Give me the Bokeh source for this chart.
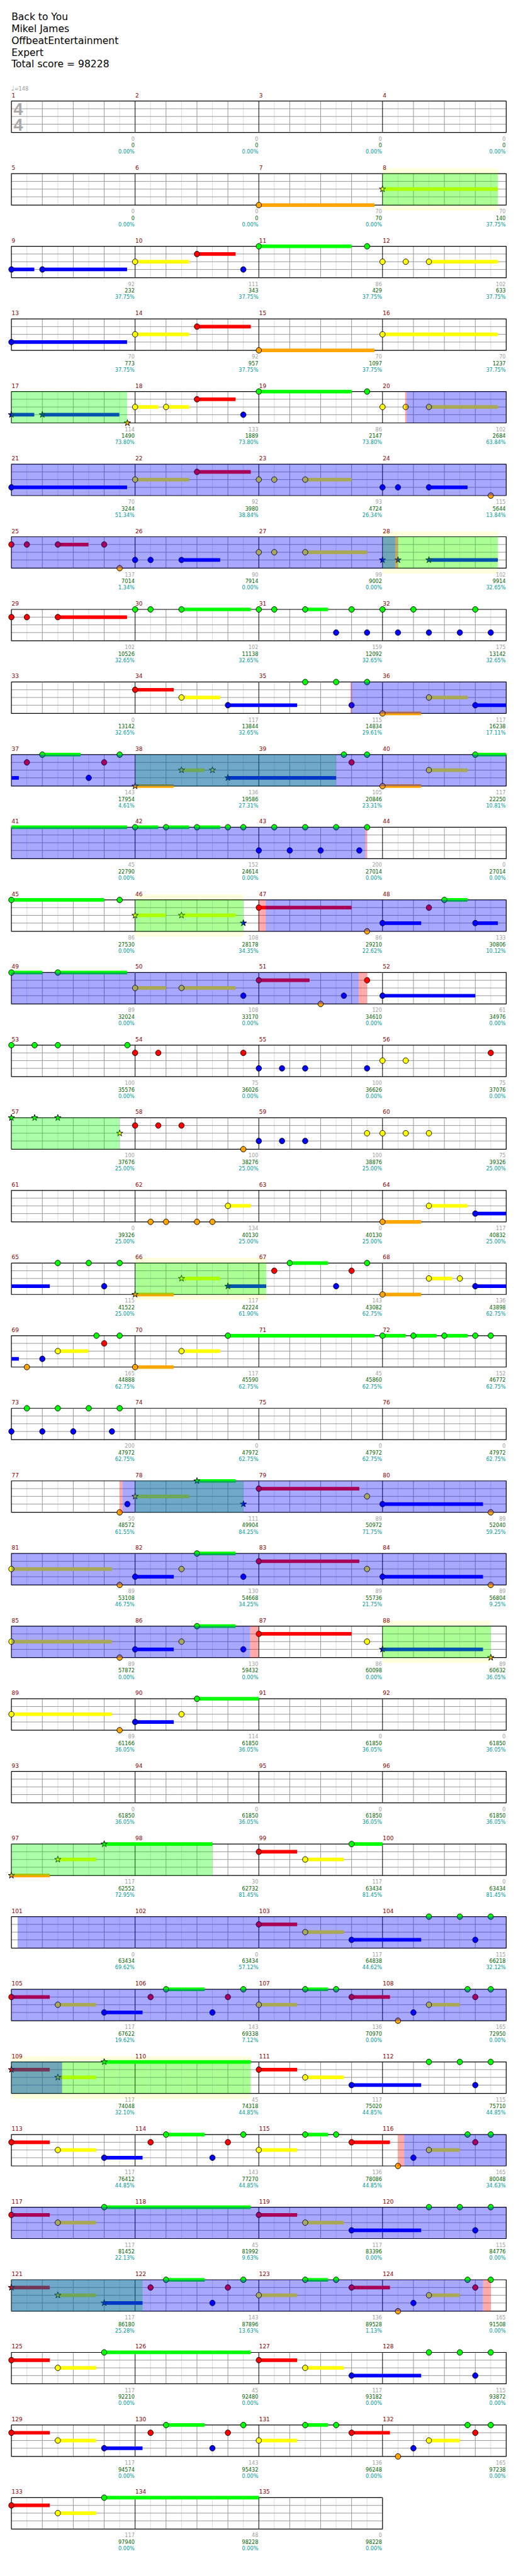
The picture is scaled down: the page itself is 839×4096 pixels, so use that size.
import math
from bokeh.plotting import figure
from bokeh.models import Range1d, ColumnDataSource
from bokeh.embed import file_html
from bokeh.resources import INLINE
from bokeh.core.properties import value

# ---------------------------------------------------------------- data
TITLE = ["Back to You", "Mikel James", "OffbeatEntertainment", "Expert", "Total score = 98228"]
TEMPO = 148
TIME_SIG = ("4", "4")
N_MEASURES = 135

# notes: (beat from song start, sustain length in beats, star note)
GREEN_NOTES = [
    (40, 3, 0), (43.5, 0, 0),
    (72, 3, 0), (75.5, 0, 0),
    (116, 0, 0), (116.5, 0, 0), (117.5, 2.24, 0), (120, 0, 0), (120.5, 0, 0), (121.5, 0.74, 0),
    (123, 0, 0), (124, 0, 0), (125, 0, 0), (127, 0, 0),
    (137.5, 0, 0), (138.5, 0, 0), (139.5, 0, 0),
    (145, 1.24, 0), (147.5, 0, 0), (154.75, 0, 0), (155.5, 0, 0), (159, 4.74, 0),
    (164, 0.75, 0), (165, 0.75, 0), (166, 0.75, 0), (167, 0, 0), (167.5, 0, 0), (168.5, 0, 0),
    (169.5, 0, 0), (170.5, 0, 0), (171.5, 0, 0),
    (176, 3, 0), (179.5, 0, 0), (190, 0.75, 0),
    (192, 1.0, 0), (193.5, 2.24, 0),
    (208, 0, 0), (208.75, 0, 0), (209.5, 0, 0), (211.75, 0, 0),
    (224, 0, 1), (224.75, 0, 1), (225.5, 0, 1),
    (257.5, 0, 0), (258.5, 0, 0), (259.5, 0, 0), (265, 1.24, 0), (267.5, 0, 0),
    (274.75, 0, 0), (275.5, 0, 0), (279, 4.74, 0), (284, 0.75, 0), (285, 0.75, 0), (286, 0.75, 0),
    (287, 0, 0), (287.5, 0, 0),
    (288.5, 0, 0), (289.5, 0, 0), (290.5, 0, 0), (291.5, 0, 0),
    (310, 1.25, 1), (326, 1.25, 0), (342, 1.25, 0), (358, 2, 0),
    (387, 3.5, 1), (395, 1, 0),
    (413.5, 0, 0), (414.5, 0, 0), (415.5, 0, 0),
    (421, 1.25, 0), (423.5, 0, 0), (425.5, 0.74, 0), (426.5, 0, 0), (430.75, 0, 0), (431.5, 0, 0),
    (435, 4.74, 1), (445.5, 0, 0), (446.5, 0, 0), (447.5, 0, 0),
    (453, 1.25, 0), (455.5, 0, 0), (457.5, 0.74, 0), (458.5, 0, 0), (462.75, 0, 0), (463.5, 0, 0),
    (467, 4.74, 0), (477.5, 0, 0), (478.5, 0, 0), (479.5, 0, 0),
    (485, 1.25, 0), (487.5, 0, 0), (489.5, 0.74, 0), (490.5, 0, 0), (494.75, 0, 0), (495.5, 0, 0),
    (499, 4.74, 0), (509.5, 0, 0), (510.5, 0, 0), (511.5, 0, 0),
    (517, 1.25, 0), (519.5, 0, 0), (521.5, 0.74, 0), (522.5, 0, 0), (526.75, 0, 0), (527.5, 0, 0),
    (531, 5, 0),
]
RED_NOTES = [
    (38, 1.25, 0), (54, 1.74, 0), (70, 1.25, 0), (86, 1.74, 0),
    (96, 0, 0), (96.5, 0, 0), (97.5, 0.99, 0), (99, 0, 0),
    (112, 0, 0), (112.5, 0, 0), (113.5, 2.24, 0),
    (132, 1.25, 0),
    (144.5, 0, 0), (147, 0, 0), (155, 0, 0),
    (184, 3, 0), (189.5, 0, 0),
    (200, 1.64, 0), (203.5, 0, 0),
    (212, 0, 0), (212.75, 0, 0), (215.5, 0, 0), (223.5, 0, 0),
    (228, 0, 0), (228.75, 0, 0), (229.5, 0, 0),
    (264.5, 0, 0), (267, 0, 0),
    (275, 0, 0),
    (312, 3.25, 0), (328, 3.25, 0), (344, 3, 0),
    (392, 1.24, 0), (408, 1.24, 0),
    (416, 1.24, 0), (420.5, 0, 0), (423, 0, 0), (427, 1.24, 0), (431, 0, 0),
    (432, 1.24, 1), (440, 1.24, 0),
    (448, 1.24, 0), (452.5, 0, 0), (455, 0, 0), (459, 1.24, 0), (463, 0, 0),
    (464, 1.24, 0), (472, 1.24, 0),
    (480, 1.24, 1), (484.5, 0, 0), (487, 0, 0), (491, 1.24, 0), (495, 0, 0),
    (496, 1.24, 0), (504, 1.24, 0),
    (512, 1.24, 0), (516.5, 0, 0), (519, 0, 0), (523, 1.24, 0), (527, 0, 0),
    (528, 1.24, 0),
]
YELLOW_NOTES = [
    (28, 3.73, 1),
    (36, 1.75, 0), (44, 0, 0), (44.75, 0, 0), (45.5, 2.23, 0),
    (52, 1.75, 0), (60, 3.73, 0),
    (68, 0.75, 0), (69, 0.75, 0), (76, 0, 0), (76.75, 0, 0), (77.5, 2.23, 0),
    (84, 1.75, 0), (88, 0, 0), (88.5, 0, 0), (89.5, 1.5, 0),
    (104, 0, 0), (104.5, 0, 0), (105.5, 2, 0),
    (133.5, 1.25, 0), (141.5, 1.25, 0),
    (149.5, 0.75, 1), (150.5, 0, 1), (157.5, 1.25, 0),
    (180, 0.99, 1), (181.5, 1.75, 1),
    (196, 1, 0), (197.5, 1.75, 0),
    (220, 0, 0), (220.75, 0, 0),
    (227.5, 0, 1), (235.5, 0, 0), (236, 0, 0), (236.75, 0, 0), (237.5, 0, 0),
    (247, 0.74, 0), (253.5, 1.25, 0),
    (261.5, 1.25, 1), (269.5, 0.75, 0), (270.5, 0, 0),
    (273.5, 0.99, 0), (277.5, 1.25, 0),
    (308, 1.75, 1), (315.5, 0, 0),
    (320, 3.25, 0), (325.5, 0, 0), (331.5, 0, 0),
    (336, 3.25, 0), (341.5, 0, 0), (347.5, 0, 0),
    (352, 3.25, 0), (357.5, 0, 0),
    (385.5, 1.24, 1), (393.5, 1.25, 0),
    (409.5, 1.25, 0),
    (417.5, 1.24, 0), (424, 1.24, 0), (429.5, 1, 0),
    (433.5, 1.24, 1), (441.5, 1.25, 0),
    (449.5, 1.24, 0), (456, 1.24, 0), (461.5, 1, 0),
    (465.5, 1.24, 0), (473.5, 1.25, 0),
    (481.5, 1.24, 1), (488, 1.24, 0), (493.5, 1, 0),
    (497.5, 1.24, 0), (505.5, 1.25, 0),
    (513.5, 1.24, 0), (520, 1.24, 0), (525.5, 1, 0),
    (529.5, 1.24, 0),
]
BLUE_NOTES = [
    (32, 0.74, 0), (33, 2.74, 0), (39.5, 0, 0),
    (48, 3.74, 0),
    (64, 0.74, 1), (65, 2.49, 1), (71.5, 0, 0),
    (80, 3.74, 0), (92, 0, 0), (92.5, 0, 0), (93.5, 1.25, 0),
    (100, 0, 0), (100.5, 0, 0), (101.5, 1.25, 0), (108, 0, 1), (108.5, 0, 1), (109.5, 2.23, 1),
    (122.5, 0, 0), (123.5, 0, 0), (124.5, 0, 0), (125.5, 0, 0), (126.5, 0, 0), (127.5, 0, 0),
    (135, 2.24, 0), (139, 0, 0), (143, 1.24, 0),
    (146.5, 0, 0), (151, 3.5, 1),
    (168, 0, 0), (169, 0, 0), (170, 0, 0), (171.25, 0, 0),
    (183.5, 0, 1), (188, 1.25, 0), (191, 0.73, 0),
    (199.5, 0, 0), (202.75, 0, 0), (204, 3, 0),
    (216, 0, 0), (216.75, 0, 0), (217.5, 0, 0), (219.5, 0, 0),
    (232, 0, 0), (232.75, 0, 0), (233.5, 0, 0),
    (255, 2.24, 0),
    (259, 0, 0), (263, 1.24, 1), (266.5, 0, 0), (271, 1.24, 0),
    (273, 0, 0),
    (288, 0, 0), (289, 0, 0), (290, 0, 0), (291.25, 0, 0),
    (307.75, 0, 0), (311.5, 0, 1), (316, 3.25, 0),
    (324, 1.25, 0), (327.5, 0, 0), (332, 3.25, 0),
    (340, 1.25, 0), (343.5, 0, 0), (348, 3.25, 1),
    (356, 1.25, 0),
    (411, 2.25, 0), (415, 0, 0),
    (419, 1.24, 0), (422.5, 0, 0), (429, 0, 0),
    (443, 2.25, 0), (447, 0, 0),
    (451, 1.24, 0), (454.5, 0, 0), (461, 0, 0),
    (475, 2.25, 0), (479, 0, 0),
    (483, 1.24, 1), (486.5, 0, 0), (493, 0, 0),
    (507, 2.25, 0), (511, 0, 0),
    (515, 1.24, 0), (518.5, 0, 0), (525, 0, 0),
]
ORANGE_NOTES = [
    (24, 3.74, 0), (56, 3.74, 0), (67.75, 0, 1), (95.5, 0, 0), (99.5, 0, 0),
    (140, 1.25, 0), (148, 1.25, 1), (156, 1.25, 0),
    (187.5, 0, 0), (202, 0, 0), (231.5, 0, 0),
    (244.5, 0, 0), (245, 0, 0), (246, 0, 0), (246.5, 0, 0), (252, 1.25, 0),
    (260, 1.25, 1), (268, 1.25, 0),
    (272.5, 0, 0), (276, 1.25, 0),
    (307.5, 0, 0), (319.5, 0, 0), (323.5, 0, 0), (335.5, 0, 0), (339.5, 0, 0), (351.5, 0, 1), (355.5, 0, 0),
    (384, 1.24, 1),
    (428.5, 0, 0), (460.5, 0, 0), (492.5, 0, 0), (524.5, 0, 0),
]

# star-power phrases: (start beat, end beat, highlighted)
SP_PHRASES = [
    (28, 31.73, 1), (64, 67.74, 0), (108, 111.73, 1), (148, 154.5, 0), (180, 183.5, 1),
    (224, 227.5, 0), (260, 264.24, 1), (308, 311.5, 0), (348, 351.5, 1), (384, 390.5, 0),
    (432, 439.74, 1), (480, 484.24, 0),
]
# star-power activations: (start beat, end beat)
ACTIVATIONS = [(76.78, 108.41), (139, 171.45), (184.22, 203.23), (307.59, 343.72),
               (400.2, 433.64), (460.7, 495.25)]
# activation edges: (start beat, end beat)
EDGES = [(76.73, 76.78), (108.41, 108.5), (138.96, 139), (171.45, 171.5), (184, 184.22),
         (203.23, 203.5), (307.5, 307.59), (343.72, 344), (460.5, 460.7), (495.25, 495.5)]

MEASURE_SCORE = [
    0, 0, 0, 0, 0, 0, 70, 70, 92, 111, 86, 102, 70, 92, 70, 70,
    114, 133, 86, 102, 70, 92, 93, 115, 137, 90, 99, 102, 102, 102, 159, 175,
    0, 117, 115, 117, 143, 136, 105, 117, 45, 152, 200, 0, 86, 108, 86, 133,
    89, 108, 120, 61, 100, 75, 100, 75, 100, 100, 100, 75, 0, 134, 0, 117,
    115, 117, 143, 136, 165, 117, 45, 152, 200, 0, 0, 0, 50, 111, 89, 89,
    89, 130, 89, 89, 89, 130, 86, 89, 89, 114, 0, 0, 0, 0, 0, 0,
    117, 30, 117, 0, 0, 0, 117, 115, 117, 143, 136, 165, 117, 45, 117, 115,
    117, 143, 136, 165, 117, 45, 117, 115, 117, 143, 136, 165, 117, 45, 117, 115,
    117, 143, 136, 165, 117, 48, 0,
]
TOTAL_SCORE = [
    0, 0, 0, 0, 0, 0, 70, 140, 232, 343, 429, 633, 773, 957, 1097, 1237,
    1490, 1889, 2147, 2684, 3244, 3980, 4724, 5644, 7014, 7914, 9002, 9914,
    10526, 11138, 12092, 13142, 13142, 13844, 14834, 16238, 17954, 19586, 20846, 22250,
    22790, 24614, 27014, 27014, 27530, 28178, 29210, 30806, 32024, 33170, 34610, 34976,
    35576, 36026, 36626, 37076, 37676, 38276, 38876, 39326, 39326, 40130, 40130, 40832,
    41522, 42224, 43082, 43898, 44888, 45590, 45860, 46772, 47972, 47972, 47972, 47972,
    48572, 49904, 50972, 52040, 53108, 54668, 55736, 56804, 57872, 59432, 60098, 60632,
    61166, 61850, 61850, 61850, 61850, 61850, 61850, 61850, 62552, 62732, 63434, 63434,
    63434, 63434, 64838, 66218, 67622, 69338, 70970, 72950, 74048, 74318, 75020, 75710,
    76412, 77270, 78086, 80048, 81452, 81992, 83396, 84776, 86180, 87896, 89528, 91508,
    92210, 92480, 93182, 93872, 94574, 95432, 96248, 97238, 97940, 98228, 98228,
]
SP_METER = [
    0, 0, 0, 0, 0, 0, 0, 37.75, 37.75, 37.75, 37.75, 37.75, 37.75, 37.75, 37.75, 37.75,
    73.80, 73.80, 73.80, 63.84, 51.34, 38.84, 26.34, 13.84, 1.34, 0, 0, 32.65,
    32.65, 32.65, 32.65, 32.65, 32.65, 32.65, 29.61, 17.11, 4.61, 27.31, 23.31, 10.81,
    0, 0, 0, 0, 0, 34.35, 22.62, 10.12, 0, 0, 0, 0,
    0, 0, 0, 0, 25, 25, 25, 25, 25, 25, 25, 25,
    25, 61.90, 62.75, 62.75, 62.75, 62.75, 62.75, 62.75, 62.75, 62.75, 62.75, 62.75,
    61.55, 84.25, 71.75, 59.25, 46.75, 34.25, 21.75, 9.25, 0, 0, 0, 36.05,
    36.05, 36.05, 36.05, 36.05, 36.05, 36.05, 36.05, 36.05, 72.95, 81.45, 81.45, 81.45,
    69.62, 57.12, 44.62, 32.12, 19.62, 7.12, 0, 0, 32.10, 44.85, 44.85, 44.85,
    44.85, 44.85, 44.85, 34.63, 22.13, 9.63, 0, 0, 25.28, 13.63, 1.13, 0,
    0, 0, 0, 0, 0, 0, 0, 0, 0, 0, 0,
]

# ---------------------------------------------------------------- layout
S = 0.819                 # output scale
W, H = 823, 4078          # figure size in screen px
ORG = 8 / S               # page margin in reference px
X0 = 31.3                 # staff left edge (reference px)
BEAT_W = 60.0
TOP0 = 205.3
PITCH = 141.0
STAFF_H = 61.0
LANE_Y = [0, 15, 30, 45, 61]
LANE_COLORS = ["#00ff00", "#ff0000", "#ffff00", "#0000ff", "#ffa500"]
BEATS_PER_ROW = 16
N_ROWS = math.ceil(N_MEASURES / 4)
FONT = value("DejaVu Sans")


def fs(px):
    return "%.2fpx" % (px * S)


def row_top(r):
    return TOP0 + r * PITCH


def split(a, b):
    out = []
    while a < b - 1e-9:
        r = int(a // BEATS_PER_ROW + 1e-9)
        e = min(b, (r + 1) * BEATS_PER_ROW)
        out.append((r, a - BEATS_PER_ROW * r, e - BEATS_PER_ROW * r))
        a = e
    return out


p = figure(width=W, height=H,
           x_range=Range1d(ORG, ORG + W / S),
           y_range=Range1d(ORG + H / S, ORG),
           output_backend="svg", toolbar_location=None,
           x_axis_location=None, y_axis_location=None, min_border=0)
p.xgrid.visible = False
p.ygrid.visible = False
p.outline_line_color = None
p.background_fill_color = "white"
p.border_fill_color = "white"

# highlighted phrase boxes (behind everything)
bl, br, bt, bb = [], [], [], []
for a, b, boxed in SP_PHRASES:
    if not boxed:
        continue
    for r, s0, s1 in split(a, b):
        bl.append(X0 + s0 * BEAT_W); br.append(X0 + s1 * BEAT_W)
        bt.append(row_top(r) - 10.5); bb.append(row_top(r) + STAFF_H + 10.5)
p.quad(left=bl, right=br, top=bt, bottom=bb, fill_color="#ffffdd", line_color=None)

# grid
light = ([], [], [], [])
beat = ([], [], [], [])
bar = ([], [], [], [])
lane = ([], [], [], [])
brd = ([], [], [], [])
for r in range(N_ROWS):
    nm = min(4, N_MEASURES - 4 * r)
    top = row_top(r)
    bot = top + STAFF_H
    nb = nm * 4
    for k in range(1, nb * 2):
        x = X0 + k * BEAT_W / 2
        tgt = light if k % 2 == 1 else (bar if k % 8 == 0 else beat)
        tgt[0].append(x); tgt[1].append(top); tgt[2].append(x); tgt[3].append(bot)
    for off in LANE_Y[1:4]:
        lane[0].append(X0); lane[1].append(top + off)
        lane[2].append(X0 + nb * BEAT_W); lane[3].append(top + off)
    brd[0].append(X0); brd[1].append(X0 + nb * BEAT_W); brd[2].append(top); brd[3].append(bot)

for seg, col in ((light, "#dddddd"), (beat, "#999999"), (lane, "#999999"), (bar, "#000000")):
    p.segment(x0=seg[0], y0=seg[1], x1=seg[2], y1=seg[3], line_color=col, line_width=1)
p.quad(left=brd[0], right=brd[1], top=brd[2], bottom=brd[3], fill_color=None,
       line_color="black", line_width=1.2)

# sustains and notes
sus = dict(l=[], r=[], t=[], b=[], c=[])
dots = dict(x=[], y=[], c=[])
stars = dict(x=[], y=[], c=[])
for li, notes in enumerate((GREEN_NOTES, RED_NOTES, YELLOW_NOTES, BLUE_NOTES, ORANGE_NOTES)):
    col = LANE_COLORS[li]
    for pos, ln, star in notes:
        if ln > 0:
            for r, s0, s1 in split(pos, pos + ln):
                y = row_top(r) + LANE_Y[li]
                sus["l"].append(X0 + s0 * BEAT_W); sus["r"].append(X0 + s1 * BEAT_W)
                sus["t"].append(y - 3.5); sus["b"].append(y + 3.5); sus["c"].append(col)
        r = int(pos // BEATS_PER_ROW + 1e-9)
        x = X0 + (pos - BEATS_PER_ROW * r) * BEAT_W
        y = row_top(r) + LANE_Y[li]
        d = stars if star else dots
        d["x"].append(x); d["y"].append(y); d["c"].append(col)

p.quad(left="l", right="r", top="t", bottom="b", fill_color="c", line_color=None,
       source=ColumnDataSource(sus))
p.ellipse(x="x", y="y", width=10.5, height=11, fill_color="c", line_color="black",
          line_width=0.9, source=ColumnDataSource(dots))
p.scatter(x="x", y="y", marker="star", size=13 * S, fill_color="c", line_color="black",
          line_width=0.9, source=ColumnDataSource(stars))


def overlay(intervals, color, alpha):
    L, R, T, B = [], [], [], []
    for iv in intervals:
        for r, s0, s1 in split(iv[0], iv[1]):
            L.append(X0 + s0 * BEAT_W); R.append(X0 + s1 * BEAT_W)
            T.append(row_top(r)); B.append(row_top(r) + STAFF_H)
    p.quad(left=L, right=R, top=T, bottom=B, fill_color=color, fill_alpha=alpha, line_color=None)


overlay(SP_PHRASES, "#00ff00", 0.33)
overlay(ACTIVATIONS, "#0000ff", 0.34)
overlay(EDGES, "#ff0000", 0.33)

# texts
p.text(x=[X0] * len(TITLE), y=[42.3 + 23 * i for i in range(len(TITLE))], text=TITLE,
       text_font=FONT, text_font_size=fs(19), text_color="black",
       text_align="left", text_baseline="middle")
p.text(x=[X0 - 0.5], y=[180.5], text=["\u2669"], text_font=FONT, text_font_size=fs(13),
       text_color="#999999", text_align="left", text_baseline="middle")
p.text(x=[X0 + 5.5], y=[181.7], text=["=%d" % TEMPO], text_font=FONT, text_font_size=fs(10),
       text_color="#999999", text_align="left", text_baseline="middle")
p.text(x=[X0 + 13.2, X0 + 13.2], y=[TOP0 + 15.5, TOP0 + 46], text=list(TIME_SIG),
       text_font=value("Liberation Sans"), text_font_style="bold", text_font_size=fs(33),
       text_color="#aaaaaa", text_align="center", text_baseline="middle")

mn = dict(x=[], y=[], t=[])
g1 = dict(x=[], y=[], t=[])
g2 = dict(x=[], y=[], t=[])
g3 = dict(x=[], y=[], t=[])
for m in range(N_MEASURES):
    r, j = divmod(m, 4)
    xs = X0 + j * 4 * BEAT_W
    xe = xs + 4 * BEAT_W
    top = row_top(r)
    mn["x"].append(xs + 0.5); mn["y"].append(top - 11.6); mn["t"].append(str(m + 1))
    g1["x"].append(xe - 1); g1["y"].append(top + 72.7); g1["t"].append(str(MEASURE_SCORE[m]))
    g2["x"].append(xe - 1); g2["y"].append(top + 85.7); g2["t"].append(str(TOTAL_SCORE[m]))
    g3["x"].append(xe - 1); g3["y"].append(top + 98.7); g3["t"].append("%.2f%%" % SP_METER[m])

p.text(x="x", y="y", text="t", source=ColumnDataSource(mn), text_font=FONT,
       text_font_size=fs(11), text_color="#8b0000", text_align="left", text_baseline="middle")
for src, col in ((g1, "#a0a0a0"), (g2, "#006400"), (g3, "#009999")):
    p.text(x="x", y="y", text="t", source=ColumnDataSource(src), text_font=FONT,
           text_font_size=fs(10), text_color=col, text_align="right", text_baseline="middle")

open("out.html", "w").write(file_html(p, INLINE))
